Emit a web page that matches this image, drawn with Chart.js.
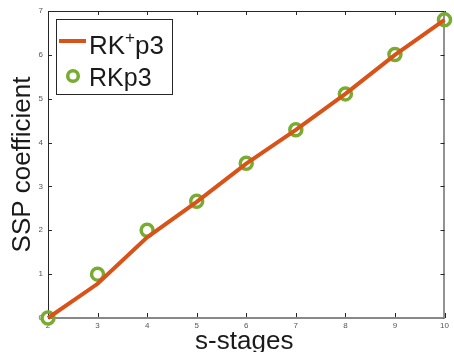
<!DOCTYPE html>
<html>
<head>
<meta charset="utf-8">
<script src="https://cdn.jsdelivr.net/npm/chart.js@4.4.0/dist/chart.umd.min.js"></script>
<style>
  body { margin: 0; background: #fff; }
  #myChart { display: block; }
</style>
</head>
<body>
<canvas id="myChart" width="454" height="352"></canvas>
<script>
const ctx = document.getElementById('myChart');

// s-stages and SSP coefficients
const stages = [2, 3, 4, 5, 6, 7, 8, 9, 10];
const rkPlusP3 = [0, 0.78, 1.84, 2.65, 3.52, 4.29, 5.11, 6.0, 6.8];
const rkP3 = [0, 1.0, 2.0, 2.66, 3.53, 4.29, 5.11, 6.01, 6.8];
const xTicks = [2, 3, 4, 5, 6, 7, 8, 9, 10];
const yTicks = [0, 1, 2, 3, 4, 5, 6, 7];

const orange = '#D95319';
const green = '#77AC30';
const fontName = '"Liberation Sans", Arial, Helvetica, sans-serif';

function toPoints(xs, ys) {
    return xs.map((x, i) => ({ x: x, y: ys[i] }));
}

// box, inward ticks, axis titles and the legend
const extras = {
    id: 'extras',
    beforeDatasetsDraw(chart) {
        const c = chart.ctx;
        const a = chart.chartArea;
        const sx = chart.scales.x;
        const sy = chart.scales.y;
        c.save();
        c.strokeStyle = '#262626';
        c.lineWidth = 1;
        c.beginPath();
        c.moveTo(a.left + 0.5, a.bottom);
        c.lineTo(a.left + 0.5, a.top + 0.5);
        c.lineTo(a.right - 0.5, a.top + 0.5);
        c.lineTo(a.right - 0.5, a.bottom);
        xTicks.forEach(v => {
            const px = Math.round(sx.getPixelForValue(v)) + 0.5;
            c.moveTo(px, a.top);
            c.lineTo(px, a.top + 4);
            c.moveTo(px, a.bottom);
            c.lineTo(px, a.bottom - 5);
        });
        yTicks.forEach(v => {
            const py = Math.round(sy.getPixelForValue(v)) + 0.5;
            c.moveTo(a.left, py);
            c.lineTo(a.left + 4, py);
            c.moveTo(a.right, py);
            c.lineTo(a.right - 4, py);
        });
        c.stroke();
        c.strokeStyle = '#888888';
        c.lineWidth = 2;
        c.beginPath();
        c.moveTo(a.left + 1, a.bottom);
        c.lineTo(a.right - 1, a.bottom);
        c.stroke();
        c.restore();
    },
    afterDraw(chart) {
        const c = chart.ctx;
        const a = chart.chartArea;
        c.save();
        c.fillStyle = '#1a1a1a';
        c.font = '26px ' + fontName;
        c.textAlign = 'center';
        c.textBaseline = 'alphabetic';
        c.fillText('s-stages', (a.left + a.right) / 2 - 2, 349);
        c.translate(30, (a.top + a.bottom) / 2);
        c.rotate(-Math.PI / 2);
        c.fillText('SSP coefficient', 0, 0);
        c.restore();

        // legend
        c.save();
        c.fillStyle = '#ffffff';
        c.fillRect(56, 19, 116, 75);
        c.strokeStyle = '#262626';
        c.lineWidth = 1;
        c.strokeRect(56.5, 19.5, 116, 75);
        c.strokeStyle = orange;
        c.lineWidth = 4;
        c.beginPath();
        c.moveTo(59, 41);
        c.lineTo(86, 41);
        c.stroke();
        c.strokeStyle = green;
        c.lineWidth = 3.5;
        c.beginPath();
        c.arc(73, 76, 5.3, 0, Math.PI * 2);
        c.stroke();
        c.fillStyle = '#1a1a1a';
        c.textAlign = 'left';
        c.textBaseline = 'alphabetic';
        c.font = '26px ' + fontName;
        let tx = 89;
        c.fillText('RK', tx, 54);
        tx += c.measureText('RK').width;
        c.font = '17px ' + fontName;
        c.fillText('+', tx, 43);
        tx += c.measureText('+').width;
        c.font = '26px ' + fontName;
        c.fillText('p3', tx, 54);
        c.font = '25px ' + fontName;
        c.fillText('RKp3', 89, 86);
        c.restore();
    }
};

new Chart(ctx, {
    type: 'line',
    data: {
        datasets: [{
            label: 'RK\u207Ap3',
            data: toPoints(stages, rkPlusP3),
            borderColor: orange,
            backgroundColor: orange,
            borderWidth: 4,
            pointRadius: 0,
            tension: 0,
            clip: false
        }, {
            label: 'RKp3',
            data: toPoints(stages, rkP3),
            showLine: false,
            borderColor: green,
            backgroundColor: 'rgba(0,0,0,0)',
            pointBorderColor: green,
            pointBackgroundColor: 'rgba(0,0,0,0)',
            pointBorderWidth: 3.5,
            pointRadius: 6,
            pointStyle: 'circle',
            clip: false
        }]
    },
    options: {
        responsive: false,
        devicePixelRatio: 1,
        animation: false,
        layout: { padding: { top: 11, right: 6, left: 0, bottom: 0 } },
        plugins: {
            legend: { display: false },
            tooltip: { enabled: false }
        },
        scales: {
            x: {
                type: 'linear',
                min: 2,
                max: 10,
                afterFit: scale => { scale.height = 34; },
                afterBuildTicks: scale => { scale.ticks = xTicks.map(v => ({ value: v })); },
                grid: { display: false, drawTicks: false },
                border: { display: false },
                ticks: { color: '#555', font: { size: 8, family: fontName }, padding: 3, maxRotation: 0 }
            },
            y: {
                type: 'linear',
                min: 0,
                max: 7,
                afterFit: scale => { scale.width = 48; },
                afterBuildTicks: scale => { scale.ticks = yTicks.map(v => ({ value: v })); },
                grid: { display: false, drawTicks: false },
                border: { display: false },
                ticks: { color: '#555', font: { size: 8, family: fontName }, padding: 5 }
            }
        }
    },
    plugins: [extras]
});
</script>
</body>
</html>
